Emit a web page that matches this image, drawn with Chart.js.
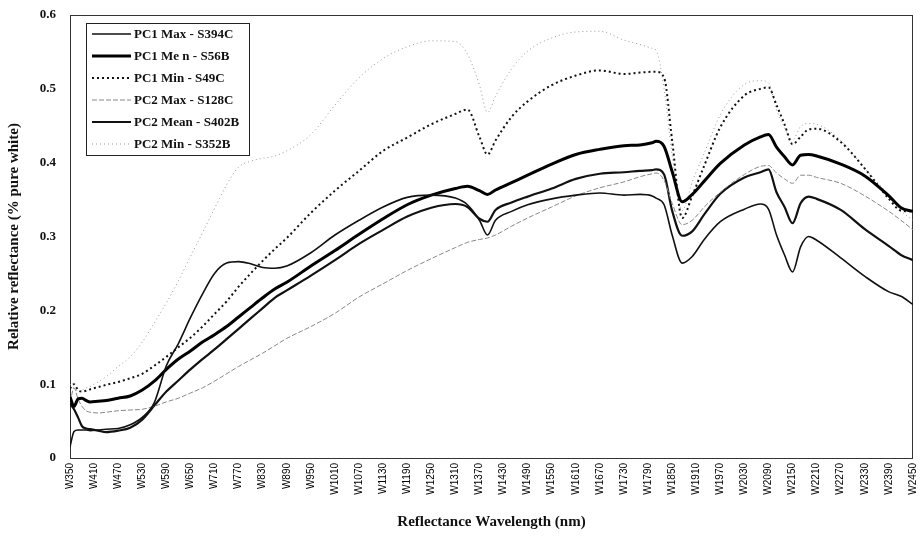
<!DOCTYPE html>
<html>
<head>
<meta charset="utf-8">
<script src="https://cdn.jsdelivr.net/npm/chart.js@4.4.1/dist/chart.umd.min.js"></script>
<style>
body { margin: 0; background: #fff; }
</style>
</head>
<body>
<canvas id="spectra" width="921" height="537"></canvas>
<script>
// wavelengths in nm (sampled more densely around the water absorption dips)
const wavelengths = [350, 360, 370, 380, 390, 400, 420, 440, 470, 500, 530, 560, 590,
    620, 650, 680, 710, 740, 770, 800, 830, 860, 890, 950, 1010, 1070, 1130, 1190, 1250, 1310,
    1340, 1370, 1390, 1410, 1450, 1490, 1550, 1610, 1670, 1730, 1770, 1800, 1810, 1830, 1850,
    1875, 1900, 1930, 1970, 2030, 2070, 2090, 2110, 2130, 2150, 2170, 2190, 2210, 2270, 2330,
    2390, 2420, 2450];

const pc1Max = [0.015, 0.036, 0.038, 0.038, 0.038, 0.037, 0.038, 0.039, 0.040, 0.045, 0.055, 0.075, 0.125,
    0.155, 0.190, 0.222, 0.250, 0.264, 0.266, 0.263, 0.258, 0.257, 0.260, 0.278, 0.302, 0.322, 0.340, 0.353, 0.356, 0.352,
    0.343, 0.322, 0.302, 0.322, 0.334, 0.343, 0.351, 0.356, 0.359, 0.356, 0.357, 0.355, 0.352, 0.343, 0.302,
    0.264, 0.273, 0.296, 0.320, 0.337, 0.344, 0.337, 0.302, 0.275, 0.252, 0.286, 0.300, 0.295, 0.271, 0.246,
    0.225, 0.219, 0.208];

const pc1Mean = [0.083, 0.070, 0.080, 0.081, 0.078, 0.076, 0.077, 0.078, 0.081, 0.084, 0.092, 0.104, 0.120,
    0.134, 0.145, 0.157, 0.167, 0.178, 0.191, 0.204, 0.217, 0.229, 0.238, 0.260, 0.281, 0.303, 0.324, 0.343, 0.356, 0.365,
    0.368, 0.362, 0.357, 0.363, 0.373, 0.383, 0.398, 0.411, 0.418, 0.423, 0.424, 0.427, 0.429, 0.422, 0.388,
    0.347, 0.357, 0.375, 0.399, 0.424, 0.435, 0.438, 0.421, 0.408, 0.397, 0.410, 0.411, 0.409, 0.398, 0.382,
    0.355, 0.339, 0.334];

const pc1Min = [0.094, 0.100, 0.092, 0.090, 0.091, 0.093, 0.096, 0.099, 0.103, 0.108, 0.114, 0.125, 0.137,
    0.150, 0.163, 0.178, 0.195, 0.212, 0.232, 0.250, 0.267, 0.283, 0.298, 0.332, 0.362, 0.389, 0.416, 0.434, 0.452, 0.466,
    0.472, 0.435, 0.411, 0.430, 0.462, 0.483, 0.505, 0.518, 0.525, 0.520, 0.522, 0.523, 0.523, 0.515, 0.430,
    0.325, 0.355, 0.396, 0.448, 0.491, 0.500, 0.502, 0.478, 0.452, 0.425, 0.435, 0.445, 0.446, 0.428, 0.392,
    0.351, 0.335, 0.334];

const pc2Max = [0.075, 0.095, 0.080, 0.070, 0.064, 0.062, 0.061, 0.062, 0.064, 0.065, 0.066, 0.070, 0.076,
    0.081, 0.088, 0.095, 0.104, 0.114, 0.124, 0.133, 0.142, 0.152, 0.162, 0.178, 0.196, 0.218, 0.236, 0.254, 0.270, 0.285,
    0.292, 0.296, 0.298, 0.302, 0.314, 0.325, 0.340, 0.355, 0.366, 0.374, 0.381, 0.385, 0.386, 0.376, 0.345,
    0.316, 0.322, 0.340, 0.360, 0.384, 0.395, 0.396, 0.386, 0.378, 0.372, 0.383, 0.383, 0.380, 0.372, 0.355,
    0.334, 0.322, 0.309];

const pc2Mean = [0.074, 0.066, 0.055, 0.043, 0.040, 0.039, 0.037, 0.035, 0.037, 0.041, 0.052, 0.071, 0.090,
    0.105, 0.120, 0.134, 0.147, 0.161, 0.175, 0.189, 0.203, 0.217, 0.227, 0.247, 0.268, 0.290, 0.309, 0.327, 0.339, 0.344,
    0.340, 0.324, 0.320, 0.336, 0.346, 0.354, 0.365, 0.378, 0.385, 0.387, 0.389, 0.390, 0.391, 0.384, 0.335,
    0.301, 0.307, 0.330, 0.358, 0.380, 0.387, 0.391, 0.360, 0.340, 0.318, 0.345, 0.354, 0.351, 0.336, 0.310,
    0.287, 0.275, 0.268];

const pc2Min = [0.100, 0.095, 0.090, 0.092, 0.095, 0.097, 0.103, 0.110, 0.124, 0.137, 0.157, 0.183, 0.210,
    0.240, 0.273, 0.305, 0.338, 0.370, 0.394, 0.402, 0.406, 0.409, 0.416, 0.438, 0.478, 0.515, 0.541, 0.557, 0.565, 0.564,
    0.547, 0.505, 0.468, 0.490, 0.527, 0.551, 0.569, 0.577, 0.578, 0.566, 0.560, 0.555, 0.552, 0.500, 0.410,
    0.335, 0.374, 0.413, 0.465, 0.506, 0.511, 0.508, 0.472, 0.447, 0.431, 0.449, 0.453, 0.452, 0.430, 0.392,
    0.356, 0.335, 0.322];

const seriesNames = ['PC1 Max - S394C', 'PC1 Me n - S56B', 'PC1 Min - S49C',
    'PC2 Max - S128C', 'PC2 Mean - S402B', 'PC2 Min - S352B'];

const toPoints = values => values.map((v, i) => ({ x: wavelengths[i], y: v }));

const makeLine = (label, values, color, width, dash) => ({
    label: label,
    data: toPoints(values),
    borderColor: color,
    borderWidth: width,
    borderDash: dash,
    pointRadius: 0,
    fill: false,
    cubicInterpolationMode: 'monotone'
});

// frame round the plot area
const plotFrame = {
    id: 'plotFrame',
    beforeDatasetsDraw(chart) {
        const { ctx, chartArea: a } = chart;
        ctx.save();
        ctx.strokeStyle = '#333';
        ctx.lineWidth = 1;
        ctx.strokeRect(Math.round(a.left) + 0.5, Math.round(a.top) + 0.5,
            Math.round(a.right - a.left) - 1, Math.round(a.bottom - a.top));
        ctx.restore();
    }
};

// boxed legend inside the plot, top left
const boxLegend = {
    id: 'boxLegend',
    afterDatasetsDraw(chart) {
        const { ctx, chartArea: a } = chart;
        const x0 = Math.round(a.left) + 16;
        const y0 = Math.round(a.top) + 8;
        ctx.save();
        ctx.fillStyle = '#fff';
        ctx.fillRect(x0, y0, 163, 132);
        ctx.strokeStyle = '#222';
        ctx.lineWidth = 1;
        ctx.setLineDash([]);
        ctx.strokeRect(x0 + 0.5, y0 + 0.5, 163, 132);
        chart.data.datasets.forEach((ds, i) => {
            const y = y0 + 11 + i * 22;
            ctx.strokeStyle = ds.borderColor;
            ctx.lineWidth = ds.borderWidth;
            ctx.setLineDash(ds.borderDash || []);
            ctx.beginPath();
            ctx.moveTo(x0 + 6, y);
            ctx.lineTo(x0 + 45, y);
            ctx.stroke();
            ctx.setLineDash([]);
            ctx.fillStyle = '#111';
            ctx.font = 'bold 13px "Liberation Serif"';
            ctx.textBaseline = 'middle';
            ctx.fillText(ds.label, x0 + 48, y + 1);
        });
        ctx.restore();
    }
};

new Chart(document.getElementById('spectra'), {
    type: 'line',
    data: {
        datasets: [
            makeLine(seriesNames[0], pc1Max, '#111', 1.6, []),
            makeLine(seriesNames[1], pc1Mean, '#000', 3, []),
            makeLine(seriesNames[2], pc1Min, '#111', 2, [2, 3]),
            makeLine(seriesNames[3], pc2Max, '#888', 1, [5, 2]),
            makeLine(seriesNames[4], pc2Mean, '#111', 2.2, []),
            makeLine(seriesNames[5], pc2Min, '#999', 1, [1, 3])
        ]
    },
    options: {
        responsive: false,
        animation: false,
        layout: { padding: { top: 15, right: 8, left: 0, bottom: 0 } },
        plugins: {
            legend: { display: false },
            tooltip: { enabled: false }
        },
        scales: {
            x: {
                type: 'linear',
                min: 350,
                max: 2450,
                grid: { display: false, drawTicks: false },
                border: { display: false },
                ticks: {
                    stepSize: 60,
                    autoSkip: false,
                    maxRotation: 90,
                    minRotation: 90,
                    padding: 5,
                    color: '#000',
                    font: { family: '"Liberation Sans"', size: 10 },
                    callback: v => 'W' + v
                },
                title: {
                    display: true,
                    text: 'Reflectance Wavelength (nm)',
                    color: '#111',
                    font: { family: '"Liberation Serif"', size: 15, weight: 'bold' },
                    padding: { top: 4, bottom: 6 }
                },
                afterFit: scale => {
                    scale.height = 79;
                    scale.paddingLeft = 0;
                    scale.paddingRight = 0;
                }
            },
            y: {
                min: 0,
                max: 0.6,
                grid: { display: false, drawTicks: false },
                border: { display: false },
                ticks: {
                    stepSize: 0.1,
                    padding: 14,
                    color: '#111',
                    font: { family: '"Liberation Serif"', size: 13, weight: 'bold' },
                    callback: v => (v === 0 ? '0' : v.toFixed(1))
                },
                title: {
                    display: true,
                    text: 'Relative reflectance (% pure white)',
                    color: '#111',
                    font: { family: '"Liberation Serif"', size: 15, weight: 'bold' },
                    padding: { top: 5, bottom: 4 }
                },
                afterFit: scale => {
                    scale.width = 70;
                    scale.paddingTop = 0;
                    scale.paddingBottom = 0;
                }
            }
        }
    },
    plugins: [plotFrame, boxLegend]
});
</script>
</body>
</html>
